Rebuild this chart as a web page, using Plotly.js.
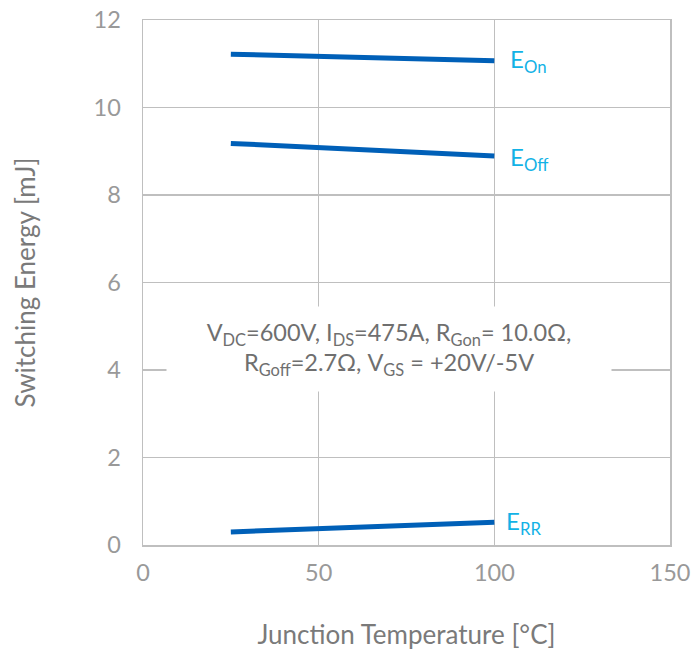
<!DOCTYPE html>
<html>
<head>
<meta charset="utf-8">
<script src="https://cdn.plot.ly/plotly-3.0.1.min.js"></script>
<style>html,body{margin:0;padding:0;background:#fff;}#chart{width:691px;height:652px;}</style>
</head>
<body>
<div id="chart"></div>
<script>
const temperature = [25, 100];
const eOn = [11.22, 11.07];
const eOff = [9.18, 8.89];
const eRR = [0.30, 0.52];
const seriesLabels = ["E<sub>On</sub>", "E<sub>Off</sub>", "E<sub>RR</sub>"];
const xTicks = [0, 50, 100, 150];
const yTicks = [0, 2, 4, 6, 8, 10, 12];
const conditionText = "V<sub>DC</sub>=600V, I<sub>DS</sub>=475A, R<sub>Gon</sub>= 10.0Ω,<br>R<sub>Goff</sub>=2.7Ω, V<sub>GS</sub> = +20V/-5V";

const lineColor = "#0060B8";
const labelColor = "#12B2E6";
const gray = "#7a7a7a";
const font = "Lato, 'Open Sans', sans-serif";

const series = [eOn, eOff, eRR];
const traces = series.map((ys) => ({
  x: temperature, y: ys, type: "scatter", mode: "lines",
  line: {color: lineColor, width: 5}, hoverinfo: "skip", showlegend: false
}));

const labelShifts = [[14, 0], [14, -2], [10, 0]];
const annotations = series.map((ys, i) => ({
  x: temperature[temperature.length - 1], y: ys[ys.length - 1],
  xref: "x", yref: "y", text: seriesLabels[i], showarrow: false,
  xanchor: "left", yanchor: "middle",
  xshift: labelShifts[i][0], yshift: labelShifts[i][1],
  font: {family: font, size: 24, color: labelColor}
}));
annotations.push({
  x: 70.0, y: 4.47, xref: "x", yref: "y", text: conditionText, showarrow: false,
  xanchor: "center", yanchor: "middle", align: "center", valign: "middle",
  width: 444, height: 84,
  bgcolor: "#ffffff", borderpad: 0,
  font: {family: font, size: 23.5, color: "#6f6f6f"}
});

const layout = {
  width: 691, height: 652,
  margin: {l: 143, r: 21, t: 20, b: 107},
  paper_bgcolor: "#fff", plot_bgcolor: "#fff",
  font: {family: font, color: gray},
  xaxis: {
    range: [0, 150], tickvals: xTicks, ticktext: xTicks.map(String),
    showgrid: true, gridcolor: "#bfbfbf", gridwidth: 1.5,
    zeroline: false, showline: true, linecolor: "#bfbfbf", linewidth: 1.5, mirror: true,
    ticks: "", ticklabelstandoff: 6, ticklabeloverflow: "allow",
    tickfont: {family: font, size: 23.5, color: "#999999"},
    title: {text: "Junction Temperature [°C]", font: {family: font, size: 26, color: gray}, standoff: 41}
  },
  yaxis: {
    range: [0, 12], tickvals: yTicks, ticktext: yTicks.map(String),
    showgrid: true, gridcolor: "#bfbfbf", gridwidth: 1.5,
    zeroline: false, showline: true, linecolor: "#bfbfbf", linewidth: 1.5, mirror: true,
    ticks: "", ticklabelstandoff: 16, ticklabeloverflow: "allow",
    tickfont: {family: font, size: 23.5, color: "#999999"},
    title: {text: "Switching Energy [mJ]", font: {family: font, size: 26, color: gray}, standoff: 50}
  },
  annotations: annotations
};

Plotly.newPlot("chart", traces, layout, {displayModeBar: false, staticPlot: true});
</script>
</body>
</html>
